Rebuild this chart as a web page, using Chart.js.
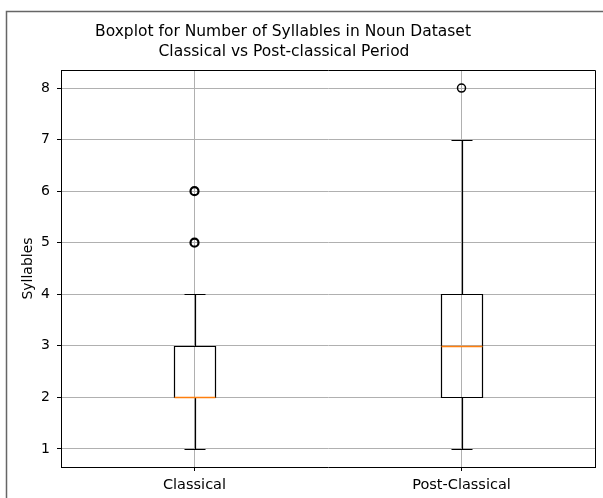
<!DOCTYPE html>
<html>
<head>
<meta charset="utf-8">
<script src="https://cdn.jsdelivr.net/npm/chart.js@4.4.0/dist/chart.umd.min.js"></script>
<style>
html,body{margin:0;padding:0;background:#fff;}
#wrap{position:absolute;left:0;top:0;width:603px;height:498px;}
</style>
</head>
<body>
<div id="wrap"><canvas id="c" width="603" height="498"></canvas></div>
<script>
// ---- Data ----
const categories = ["Classical", "Post-Classical"];
const positions = [1, 2];
const whiskerLow = [1, 1];
const q1 = [2, 2];
const median = [2, 3];
const q3 = [3, 4];
const whiskerHigh = [4, 7];
const outliers = [[5, 6], [8]];
const yTicks = [1, 2, 3, 4, 5, 6, 7, 8];
const titleLines = ["Boxplot for Number of Syllables in Noun Dataset", "Classical vs Post-classical Period"];
const yLabel = "Syllables";

const FONT = "'DejaVu Sans', sans-serif";

const outlierPoints = [];
outliers.forEach((arr, i) => arr.forEach(v => outlierPoints.push({x: positions[i], y: v})));

const boxPlugin = {
  id: 'boxplot',
  beforeDraw(chart) {
    const ctx = chart.ctx;
    ctx.save();
    ctx.fillStyle = '#fff';
    ctx.fillRect(0, 0, chart.width, chart.height);
    ctx.strokeStyle = '#666';
    ctx.lineWidth = 1.5;
    ctx.beginPath();
    ctx.moveTo(6.5, chart.height + 2);
    ctx.lineTo(6.5, 11.5);
    ctx.lineTo(chart.width + 2, 11.5);
    ctx.stroke();
    ctx.fillStyle = '#000';
    ctx.font = "15.5px " + FONT;
    ctx.textAlign = 'center';
    ctx.textBaseline = 'middle';
    ctx.fillText(titleLines[0], 283, 32);
    ctx.fillText(titleLines[1], 284, 52);
    ctx.restore();
  },
  afterDatasetsDraw(chart) {
    const ctx = chart.ctx;
    const xs = chart.scales.x, ys = chart.scales.y;
    const a = chart.chartArea;
    ctx.save();
    const px = v => Math.round(xs.getPixelForValue(v)) + 0.5;
    const py = v => Math.round(ys.getPixelForValue(v)) + 0.5;
    positions.forEach((p, i) => {
      const halfBox = 0.075, halfCap = 0.0375;
      const xl = px(p - halfBox), xr = px(p + halfBox), xc = px(p);
      const cl = px(p - halfCap), cr = px(p + halfCap);
      ctx.strokeStyle = '#000';
      ctx.lineWidth = 1.2;
      ctx.beginPath();
      ctx.moveTo(xc, py(q1[i])); ctx.lineTo(xc, py(whiskerLow[i]));
      ctx.moveTo(xc, py(q3[i])); ctx.lineTo(xc, py(whiskerHigh[i]));
      ctx.moveTo(cl, py(whiskerLow[i])); ctx.lineTo(cr, py(whiskerLow[i]));
      ctx.moveTo(cl, py(whiskerHigh[i])); ctx.lineTo(cr, py(whiskerHigh[i]));
      ctx.stroke();
      ctx.beginPath();
      ctx.rect(xl, py(q3[i]), xr - xl, py(q1[i]) - py(q3[i]));
      ctx.stroke();
      ctx.strokeStyle = '#ff7f0e';
      ctx.lineWidth = 1.5;
      ctx.beginPath();
      ctx.moveTo(xl, py(median[i])); ctx.lineTo(xr, py(median[i]));
      ctx.stroke();
    });
    ctx.strokeStyle = '#000';
    ctx.lineWidth = 1;
    ctx.beginPath();
    ctx.moveTo(Math.round(a.left) + 0.5, Math.round(a.top) + 0.5);
    ctx.lineTo(Math.round(a.right) + 0.5, Math.round(a.top) + 0.5);
    ctx.lineTo(Math.round(a.right) + 0.5, Math.round(a.bottom) + 0.5);
    ctx.stroke();
    ctx.restore();
  }
};

new Chart(document.getElementById('c'), {
  type: 'scatter',
  data: {
    datasets: [{
      data: outlierPoints,
      pointStyle: 'circle',
      pointRadius: 4,
      pointHoverRadius: 4,
      pointBorderColor: '#000',
      pointBackgroundColor: 'rgba(0,0,0,0)',
      pointBorderWidth: outlierPoints.map(p => p.x === 1 ? 2.2 : 1.5)
    }]
  },
  options: {
    responsive: false,
    animation: false,
    events: [],
    layout: {padding: {top: 70, right: 8, bottom: 0, left: 0}},
    plugins: {legend: {display: false}, title: {display: false}, tooltip: {enabled: false}},
    scales: {
      x: {
        type: 'linear',
        min: 0.5, max: 2.5,
        afterBuildTicks: s => { s.ticks = positions.map(v => ({value: v})); },
        afterFit: s => { s.height = 31; },
        ticks: {
          callback: v => categories[positions.indexOf(v)] ?? '',
          font: {family: FONT, size: 14.5},
          color: '#000',
          padding: 6,
          maxRotation: 0
        },
        grid: {color: '#b0b0b0', lineWidth: 1, tickColor: '#000', tickLength: 4, drawTicks: true},
        border: {color: '#000', width: 1}
      },
      y: {
        type: 'linear',
        min: 0.65, max: 8.35,
        afterBuildTicks: s => { s.ticks = yTicks.map(v => ({value: v})); },
        afterFit: s => { s.width = 61; },
        ticks: {
          font: {family: FONT, size: 14},
          color: '#000',
          padding: 7
        },
        grid: {color: '#b0b0b0', lineWidth: 1, tickColor: '#000', tickLength: 4, drawTicks: true},
        border: {color: '#000', width: 1},
        title: {
          display: true,
          text: yLabel,
          font: {family: FONT, size: 14},
          color: '#000',
          padding: {top: 20, bottom: 0}
        }
      }
    }
  },
  plugins: [boxPlugin]
});
</script>
</body>
</html>
